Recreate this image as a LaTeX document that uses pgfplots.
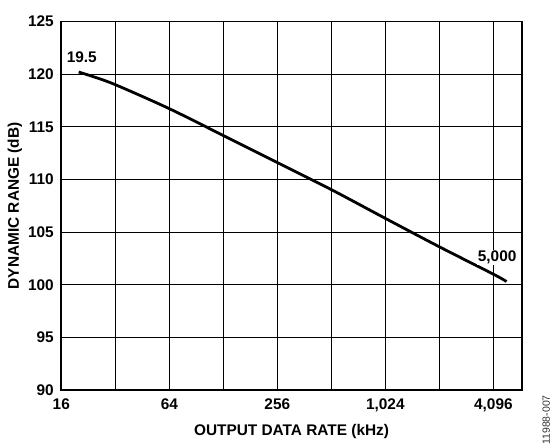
\documentclass[border=0pt]{standalone}
\usepackage{fontspec}
\setmainfont{Liberation Sans}
\usepackage{pgfplots}
\pgfplotsset{compat=1.18}
\begin{document}
\begin{tikzpicture}[x=1pt,y=1pt]
\begin{axis}[
  name=ax,
  at={(0,0)}, anchor=south west,
  scale only axis,
  width=460.5pt, height=368.5pt,
  xmode=log, log basis x=2,
  xmin=16, xmax=5900,
  ymin=90, ymax=125,
  xtick={16,32,64,128,256,512,1024,2048,4096},
  xticklabels={16,{},64,{},256,{},{1,024},{},{4,096}},
  ytick={90,95,100,105,110,115,120,125},
  yticklabels={90,95,100,105,110,115,120,125},
  major tick length=0pt,
  grid=major,
  major grid style={black, line width=0.8pt},
  axis line style={black, line width=1.8pt},
  tick label style={font=\bfseries\fontsize{15.4}{16}\selectfont},
  xticklabel style={yshift=-5pt},
  yticklabel style={xshift=-4pt},
  xlabel={\bfseries\fontsize{15.4}{16}\selectfont OUTPUT DATA RATE (kHz)},
  ylabel={\bfseries\fontsize{15.4}{16}\selectfont DYNAMIC RANGE (dB)},
  xlabel style={at={(0.5,0)}, anchor=center, yshift=-42pt},
  ylabel style={at={(0,0.5)}, anchor=center, xshift=0pt, yshift=46.5pt},
  clip=false,
]
\addplot[black, line width=2.8pt, smooth] coordinates {
(20,120.2) (24,119.77) (32,119.0) (64,116.72) (128,114.17) (256,111.6)
(512,109.03) (1024,106.3) (2048,103.6) (4096,101.0) (4850,100.3)
};
\node[font=\bfseries\fontsize{15.4}{16}\selectfont] at (axis cs:20.8,121.6) {19.5};
\node[font=\bfseries\fontsize{15.4}{16}\selectfont, fill=white, inner sep=1pt] at (axis cs:4300,102.6) {5,000};
\end{axis}
\pgfresetboundingbox
\path[use as bounding box] ([xshift=-61.3pt,yshift=-57pt]ax.south west) rectangle ([xshift=37.2pt,yshift=21.5pt]ax.north east);
\node[rotate=90, font=\fontsize{10.5}{11}\selectfont, text=black!80] at ([xshift=24.5pt,yshift=-30pt]ax.south east) {11988-007};
\end{tikzpicture}
\end{document}
